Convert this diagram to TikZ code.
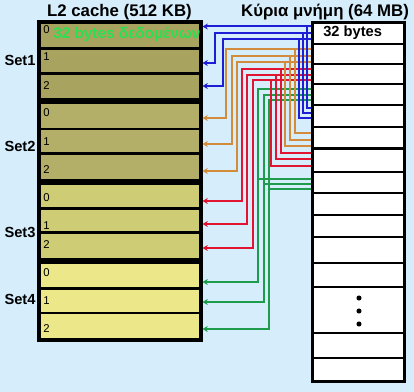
\documentclass[tikz,border=0pt]{standalone}
\usepackage{fontspec}
\setmainfont{Liberation Sans}
\usetikzlibrary{arrows.meta,fit}
\definecolor{skyback}{RGB}{214,238,251}
\definecolor{setone}{RGB}{168,163,94}
\definecolor{settwo}{RGB}{180,175,104}
\definecolor{setthree}{RGB}{206,204,116}
\definecolor{setfour}{RGB}{236,232,138}
\definecolor{wireblue}{RGB}{30,30,215}
\definecolor{wireorange}{RGB}{210,140,60}
\definecolor{wirered}{RGB}{225,20,50}
\definecolor{wiregreen}{RGB}{30,155,75}
\definecolor{datagreen}{RGB}{40,225,80}

\begin{document}
\begin{tikzpicture}[
  x=0.75pt,y=-0.75pt,
  way/.style={draw,line width=1.8pt,inner sep=0pt},
  frame/.style={draw,line width=2.4pt},
  memrow/.style={draw,fill=white,line width=1.8pt,inner sep=0pt},
  wire/.style={line width=1.5pt,-{Stealth[length=4pt,width=4.5pt]}},
  link/.style={line width=1.5pt},
  title/.style={font=\fontsize{12.6}{15}\selectfont\bfseries},
  setname/.style={font=\fontsize{11}{13}\selectfont\bfseries},
  wayno/.style={font=\fontsize{8.5}{10}\selectfont,anchor=west,inner sep=0pt}
]
  \fill[skyback] (0,0) rectangle (414,392);
  \useasboundingbox (0,0) rectangle (414,392);

  \node[title] (cachetitle) at (119.5,12) {L2 cache (512 KB)};
  \node[title] (memtitle) at (325,12) {Κύρια μνήμη (64 MB)};

  % cache: four sets of three ways
  \foreach \s/\fillc/\ya/\yb/\yc/\yd in {1/setone/22.5/48.5/73.5/99, 2/settwo/103/129/153.5/180.5,
      3/setthree/184/208.5/232.5/259, 4/setfour/262.5/288.5/313/339.5} {
    \node[way,fill=\fillc,fit={(39.5,\ya) (200.5,\yb)}] (s\s-0) {};
    \node[way,fill=\fillc,fit={(39.5,\yb) (200.5,\yc)}] (s\s-1) {};
    \node[way,fill=\fillc,fit={(39.5,\yc) (200.5,\yd)}] (s\s-2) {};
    \draw[frame] (s\s-0.north west) rectangle (s\s-2.south east);
  }
  \foreach \s/\ya/\yb/\yc in {1/30/57/86, 2/113/142/170, 3/198/226/245, 4/273/301/329} {
    \node[wayno] (n\s-0) at (43,\ya) {0};
    \node[wayno] (n\s-1) at (43,\yb) {1};
    \node[wayno] (n\s-2) at (43,\yc) {2};
  }
  \node[setname] (set1) at (20,60) {Set1};
  \node[setname] (set2) at (20,146) {Set2};
  \node[setname] (set3) at (20,232) {Set3};
  \node[setname] (set4) at (20,299) {Set4};
  \node[font=\fontsize{11.5}{13}\selectfont\bfseries,text=datagreen,anchor=west,inner sep=0pt] (data) at (53,34) {32 bytes δεδομένων};

  % blocks 3 and 7 -> Set4
  \foreach \k/\yt/\yb/\xl/\ya in {0/89/179/258/282, 1/95/184/263.5/302, 2/100/189/269/329} {
    \coordinate (g-in\k) at (312.5,\yt);
    \coordinate (g-out\k) at (312.5,\yb);
    \coordinate (g-to\k) at (202.5,\ya);
    \draw[wire,wiregreen] (g-in\k) -| (\xl,\ya) -- (g-to\k);
    \draw[link,wiregreen] (g-out\k) -- (\xl,\yb);
  }
  % blocks 2 and 6 -> Set3
  \foreach \k/\yt/\yb/\xl/\ya/\xr in {0/69/153/241.5/201/281, 1/75/159/247/224/276, 2/80.5/166/252.5/248/271} {
    \coordinate (r-in\k) at (312.5,\yt);
    \coordinate (r-out\k) at (312.5,\yb);
    \coordinate (r-to\k) at (202.5,\ya);
    \draw[wire,wirered] (r-in\k) -| (\xl,\ya) -- (r-to\k);
    \draw[link,wirered] (r-out\k) -| (\xr,\yt);
  }
  % blocks 1 and 5 -> Set2
  \foreach \k/\yt/\yb/\xl/\ya/\xr in {0/49.5/133/226/118/295, 1/56/140/231.5/144/290, 2/62/146/237/171/285} {
    \coordinate (o-in\k) at (312.5,\yt);
    \coordinate (o-out\k) at (312.5,\yb);
    \coordinate (o-to\k) at (202.5,\ya);
    \draw[wire,wireorange] (o-in\k) -| (\xl,\ya) -- (o-to\k);
    \draw[link,wireorange] (o-out\k) -| (\xr,\yt);
  }
  % blocks 0 and 4 -> Set1
  \foreach \k/\yt/\yb/\xl/\ya/\xr in {0/26.5/108/215/26.5/307, 1/33/113/215/63/303, 2/39/118/223/86/299} {
    \coordinate (b-in\k) at (312.5,\yt);
    \coordinate (b-out\k) at (312.5,\yb);
    \coordinate (b-to\k) at (202.5,\ya);
    \draw[wire,wireblue] (b-in\k) -| (\xl,\ya) -- (b-to\k);
    \draw[link,wireblue] (b-out\k) -| (\xr,\yt);
  }

  % main memory
  \foreach \i/\ya/\yb in {0/22.5/44, 1/44/64, 2/64/84, 3/84/105, 4/105/127, 5/127/148.5, 6/148.5/172,
      7/172/193, 8/193/215, 9/215/237, 10/237/263, 11/263/287, 12/287/333, 13/333/358, 14/358/381.5} {
    \node[memrow,fit={(312.5,\ya) (404.5,\yb)}] (m\i) {};
  }
  \node[font=\fontsize{11}{13}\selectfont\bfseries,anchor=west,inner sep=0pt] (bytes) at (323,33) {32 bytes};
  \foreach \d/\yd in {1/298, 2/311, 3/324}
    \node[circle,fill,inner sep=0pt,minimum size=3.8pt] (dot\d) at (359,\yd) {};
\end{tikzpicture}
\end{document}
